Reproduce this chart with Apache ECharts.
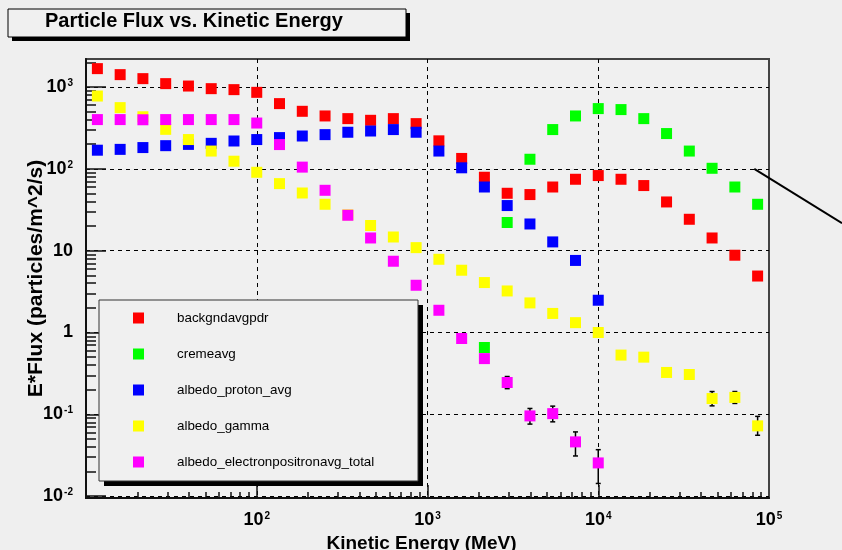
<!DOCTYPE html>
<html>
<head>
<meta charset="utf-8">
<title>Particle Flux vs. Kinetic Energy</title>
<script src="https://cdn.jsdelivr.net/npm/echarts@6/dist/echarts.min.js"></script>
<style>
  html, body { margin: 0; padding: 0; background: #efefef; }
  #chart { width: 842px; height: 550px; }
</style>
</head>
<body>
<div id="chart"></div>
<script>
// 能量点 (MeV)
const energy = [11.66, 15.85, 21.54, 29.29, 39.81, 54.12, 73.56, 100, 135.9, 184.8,
    251.2, 341.5, 464.2, 631.0, 857.7, 1166, 1585, 2154, 2929, 3981,
    5412, 7356, 10000, 13594, 18478, 25119, 34145, 46416, 63096, 85770];

// 各条曲线 E*Flux, null = 没有点
const backgndavgpdr = [1678, 1417, 1266, 1100, 1028, 955, 929, 861, 627, 505,
    443, 411, 392, 411, 357, 220, 134, 79, 50.3, 48.5,
    60, 74.6, 82.8, 74.6, 62.5, 39.4, 24.2, 14.3, 8.8, 4.9];
const cremeavg = [null, null, null, null, null, null, null, null, null, null,
    null, null, null, null, null, null, null, 0.656, 22.1, 131,
    302, 443, 545, 530, 411, 270, 165, 101.6, 60, 36.9];
const albedoProton = [169, 173, 182, 192, 199, 205, 219, 228, 241, 252,
    262, 280, 290, 302, 280, 165, 103, 60, 35.6, 21.2,
    12.8, 7.6, 2.48, null, null, null, null, null, null, null];
const albedoGamma = [776, 560, 433, 304, 228, 165, 124, 90.8, 66, 50.7,
    36.9, 27.4, 20.3, 14.7, 10.9, 7.85, 5.77, 4.08, 3.22, 2.30,
    1.71, 1.32, 1.0, 0.53, 0.50, 0.325, 0.307, 0.156, 0.161, 0.0723];
const albedoElectron = [400, 400, 398, 400, 400, 400, 400, 363, 198, 105,
    54.7, 27.1, 14.3, 7.43, 3.78, 1.87, 0.845, 0.48, 0.245, 0.0957,
    0.102, 0.0461, 0.0255, null, null, null, null, null, null, null];

// 误差棒 (点序号, 下限, 上限)
const gammaErrAt = [27, 28, 29];
const gammaErrLow = [0.127, 0.136, 0.0555];
const gammaErrHigh = [0.19, 0.19, 0.0945];
const electronErrAt = [18, 19, 20, 21, 22];
const electronErrLow = [0.206, 0.076, 0.081, 0.031, 0.0143];
const electronErrHigh = [0.29, 0.118, 0.126, 0.061, 0.037];

// 刻度
const xLabelValues = [100, 1000, 10000, 100000];
const xMajorTicks = [100, 1000, 10000];
const yMajorTicks = [0.01, 0.1, 1, 10, 100, 1000];

const seriesNames = ['backgndavgpdr', 'cremeavg', 'albedo_proton_avg', 'albedo_gamma', 'albedo_electronpositronavg_total'];
const seriesValues = [backgndavgpdr, cremeavg, albedoProton, albedoGamma, albedoElectron];
const seriesColors = ['#ff0000', '#00ff00', '#0000ff', '#ffff00', '#ff00ff'];

// 次刻度 2..9 每个量级
function minorTicks(fromExp, toExp) {
    const out = [];
    for (let e = fromExp; e < toExp; e++) {
        for (let k = 2; k <= 9; k++) out.push(k * Math.pow(10, e));
    }
    return out;
}

// 10^n 标签
function powLabel(v) {
    const e = Math.round(Math.log10(v));
    if (e === 0) return '{b|1}';
    if (e === 1) return '{b|10}';
    return '{b|10}{s|' + e + '}';
}

const labelRich = {
    b: { fontSize: 18, fontWeight: 'bold', color: '#000', lineHeight: 18, verticalAlign: 'bottom' },
    s: { fontSize: 10, fontWeight: 'bold', color: '#000', lineHeight: 10, verticalAlign: 'top', padding: [0, 0, 12, 1] }
};

function toPairs(values) {
    const out = [];
    values.forEach((v, i) => { if (v != null) out.push([energy[i], v]); });
    return out;
}

function errPairs(at, low, high) {
    return at.map((idx, i) => [energy[idx], low[i], high[i]]);
}

function renderErr(params, api) {
    const x = api.value(0);
    const p1 = api.coord([x, api.value(1)]);
    const p2 = api.coord([x, api.value(2)]);
    const style = { stroke: '#000', lineWidth: 1.5 };
    return {
        type: 'group',
        children: [
            { type: 'line', shape: { x1: p1[0], y1: p1[1], x2: p2[0], y2: p2[1] }, style: style },
            { type: 'line', shape: { x1: p1[0] - 2.5, y1: p1[1], x2: p1[0] + 2.5, y2: p1[1] }, style: style },
            { type: 'line', shape: { x1: p2[0] - 2.5, y1: p2[1], x2: p2[0] + 2.5, y2: p2[1] }, style: style }
        ]
    };
}

const chart = echarts.init(document.getElementById('chart'));

const series = [
    {
        name: 'err_gamma', type: 'custom', renderItem: renderErr, z: 2,
        encode: { x: 0, y: [1, 2] }, data: errPairs(gammaErrAt, gammaErrLow, gammaErrHigh)
    },
    {
        name: 'err_electron', type: 'custom', renderItem: renderErr, z: 2,
        encode: { x: 0, y: [1, 2] }, data: errPairs(electronErrAt, electronErrLow, electronErrHigh)
    }
];
seriesNames.forEach((name, i) => {
    series.push({
        name: name,
        type: 'scatter',
        symbol: 'rect',
        symbolSize: 11,
        z: 3,
        itemStyle: { color: seriesColors[i], opacity: 1 },
        data: toPairs(seriesValues[i])
    });
});

// ROOT 风格的方框 (带右下阴影)
function shadowBox(x, y, w, h, off, z, stroke) {
    return {
        type: 'group',
        children: [
            { type: 'rect', z: z, shape: { x: x + off, y: y + off, width: w, height: h }, style: { fill: '#000' } },
            { type: 'rect', z: z, z2: 1, shape: { x: x, y: y, width: w, height: h }, style: { fill: '#f0f0f0', stroke: stroke, lineWidth: 1 } }
        ]
    };
}

chart.setOption({
    animation: false,
    backgroundColor: '#efefef',
    textStyle: { fontFamily: 'Liberation Sans, Arial, sans-serif' },
    title: {
        text: 'Particle Flux vs. Kinetic Energy',
        left: 45, top: 11, padding: 0, z: 8,
        textStyle: { fontSize: 20, fontWeight: 'bold', color: '#000', lineHeight: 20 }
    },
    legend: {
        orient: 'vertical',
        left: 133, top: 311, padding: 0, z: 8,
        data: seriesNames,
        icon: 'rect',
        itemWidth: 11, itemHeight: 11, itemGap: 22,
        selectedMode: false,
        textStyle: { fontSize: 13.4, color: '#000', lineHeight: 14, padding: [0, 0, 0, 28] }
    },
    grid: {
        left: 86, top: 59, right: 73, bottom: 52,
        outerBoundsMode: 'none', containLabel: false,
        show: true, backgroundColor: '#f0f0f0', borderColor: '#444', borderWidth: 2
    },
    xAxis: [
        {
            type: 'log', min: 10, max: 100000,
            name: 'Kinetic Energy (MeV)', nameLocation: 'middle', nameGap: 36, nameMoveOverlap: false,
            nameTextStyle: { fontSize: 19, fontWeight: 'bold', color: '#000', padding: [0, 12, 0, 0] },
            axisLine: { show: true, onZero: false, lineStyle: { color: '#111', width: 2 } },
            axisTick: { inside: true, length: 13, customValues: xMajorTicks, lineStyle: { color: '#111', width: 1.5 } },
            axisLabel: { customValues: xLabelValues, formatter: powLabel, margin: 13, rich: labelRich },
            splitLine: { show: true, lineStyle: { color: '#000', type: [4, 4], width: 1 } }
        },
        {
            type: 'log', min: 10, max: 100000, position: 'bottom',
            axisLine: { show: false },
            axisTick: { inside: true, length: 6, customValues: minorTicks(1, 5), lineStyle: { color: '#111', width: 1.5 } },
            axisLabel: { show: false },
            splitLine: { show: false }
        }
    ],
    yAxis: [
        {
            type: 'log', min: 0.0095, max: 2200,
            name: 'E*Flux (particles/m^2/s)', nameLocation: 'middle', nameGap: 39, nameMoveOverlap: false,
            nameTextStyle: { fontSize: 21, fontWeight: 'bold', color: '#000' },
            axisLine: { show: true, onZero: false, lineStyle: { color: '#111', width: 2 } },
            axisTick: { inside: true, length: 20, customValues: yMajorTicks, lineStyle: { color: '#111', width: 1.5 } },
            axisLabel: { customValues: yMajorTicks, formatter: powLabel, margin: 13, rich: labelRich },
            splitLine: { show: true, lineStyle: { color: '#000', type: [4, 4], width: 1 } }
        },
        {
            type: 'log', min: 0.0095, max: 2200, position: 'left',
            axisLine: { show: false },
            axisTick: { inside: true, length: 10, customValues: minorTicks(-2, 4).filter(v => v < 2200), lineStyle: { color: '#111', width: 1.5 } },
            axisLabel: { show: false },
            splitLine: { show: false }
        }
    ],
    series: series
});

// 右侧那条斜线, 从 (8.2e4, 100) 出去
const start = chart.convertToPixel({ xAxisIndex: 0, yAxisIndex: 0 }, [82000, 100]);
chart.setOption({
    graphic: [
        shadowBox(8, 9, 398, 28, 4, 7, '#000'),
        shadowBox(99, 300, 319, 181, 5, 7, '#333'),
        {
            type: 'line',
            z: 100,
            shape: { x1: start[0], y1: start[1], x2: 842, y2: start[1] + (842 - start[0]) * 0.62 },
            style: { stroke: '#000', lineWidth: 2 }
        }
    ]
});
</script>
</body>
</html>
